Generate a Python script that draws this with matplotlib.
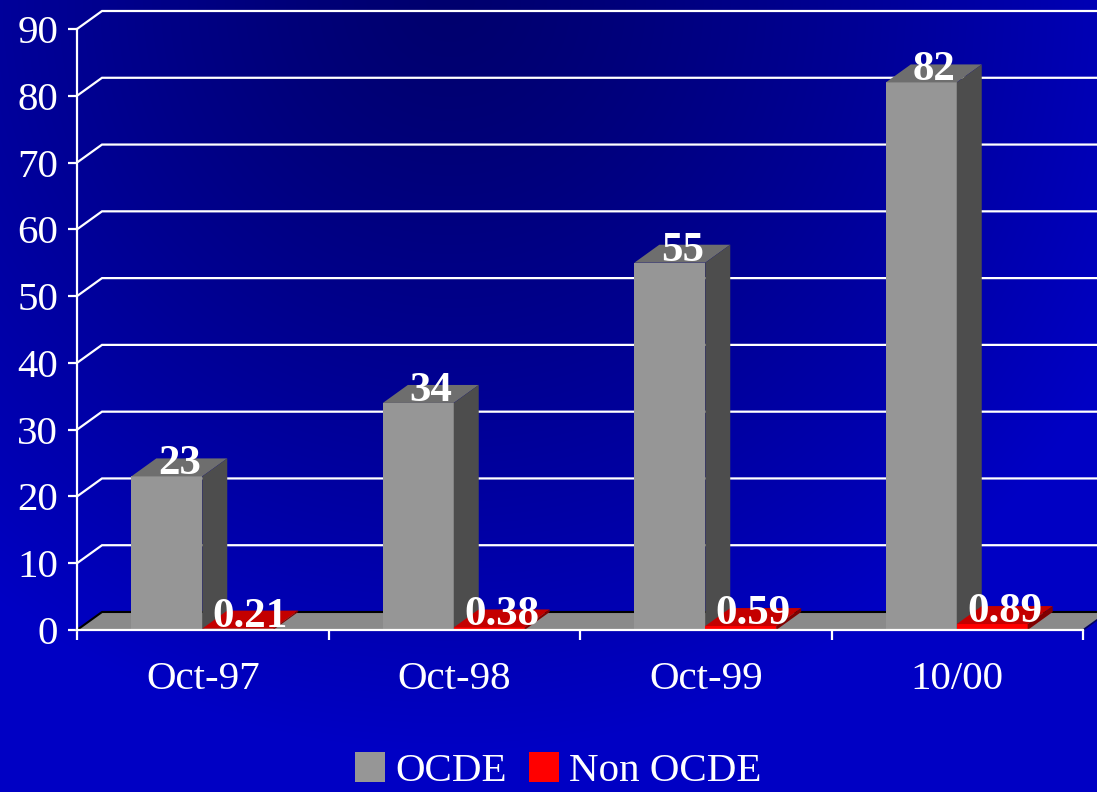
import numpy as np
import matplotlib
matplotlib.use("Agg")
import matplotlib.pyplot as plt
from matplotlib.patches import Polygon, Patch

# data
categories = ["Oct-97", "Oct-98", "Oct-99", "10/00"]
ocde = [23, 34, 55, 82]
non_ocde = [0.21, 0.38, 0.59, 0.89]
ocde_labels = ["23", "34", "55", "82"]
non_ocde_labels = ["0.21", "0.38", "0.59", "0.89"]
yticks = list(range(0, 100, 10))

FONT = "Liberation Serif"
W, H = 1097, 792

fig = plt.figure(figsize=(W / 100, H / 100), dpi=100)

# background: radial-ish blue gradient, darkest near top middle-left
ax_bg = fig.add_axes([0, 0, 1, 1])
yy, xx = np.mgrid[0:H, 0:W]
d = np.hypot(xx - 450, yy * 1.0)
t = np.clip(d / 750.0, 0, 1) ** 1.3
blue = (110 + (196 - 110) * t) / 255.0
img = np.zeros((H, W, 3))
img[..., 2] = blue
ax_bg.imshow(img, aspect="auto", extent=[0, 1, 0, 1], origin="upper")
ax_bg.axis("off")

# main axes = front plane of the 3D chart
x0, x1, y0, y1 = 77, 1083, 630, 29
ax = fig.add_axes([x0 / W, 1 - y0 / H, (x1 - x0) / W, (y0 - y1) / H])
ax.set_facecolor("none")
ax.set_xlim(0, 4)
ax.set_ylim(0, 90)

# depth offset (25 px right, 18 px up) in data units
dx = 25 / (x1 - x0) * 4
dy = 18 / (y0 - y1) * 90

# back wall gridlines
for v in yticks[1:]:
    ax.plot([0, dx, 4 + dx], [v, v + dy, v + dy], color="white", lw=1.6,
            clip_on=False, zorder=1, solid_joinstyle="miter")

# floor
floor = Polygon([(0, 0), (4, 0), (4 + dx, dy), (dx, dy)], closed=True,
                facecolor="#8a8a8a", edgecolor="none", clip_on=False, zorder=2)
ax.add_patch(floor)
ax.plot([0, dx, 4 + dx], [0, dy, dy], color="black", lw=1.5, clip_on=False, zorder=2.1)
ax.plot([4, 4 + dx], [0, dy], color="#000060", lw=1.2, clip_on=False, zorder=2.1)

x = np.arange(len(categories))
bw = 0.282
start = 0.216


def bar3d(xs, vals, front, top, side, z):
    bars = ax.bar(xs, vals, width=bw, align="edge", color=front,
                  edgecolor="none", zorder=z, clip_on=False)
    for b in bars:
        bx, by = b.get_x(), b.get_y()
        bwid, bh = b.get_width(), b.get_height()
        ax.add_patch(Polygon([(bx, by + bh), (bx + bwid, by + bh),
                              (bx + bwid + dx, by + bh + dy), (bx + dx, by + bh + dy)],
                             facecolor=top, edgecolor="none", zorder=z, clip_on=False))
        ax.add_patch(Polygon([(bx + bwid, by), (bx + bwid + dx, by + dy),
                              (bx + bwid + dx, by + bh + dy), (bx + bwid, by + bh)],
                             facecolor=side, edgecolor="none", zorder=z, clip_on=False))
    return bars


g_bars = bar3d(x + start, ocde, "#969696", "#6e6e6e", "#4d4d4d", 3)
r_bars = bar3d(x + start + bw, non_ocde, "#ff0000", "#c40000", "#800000", 4)

for bars, labels in [(g_bars, ocde_labels), (r_bars, non_ocde_labels)]:
    for b, lab in zip(bars, labels):
        ax.text(b.get_x() + b.get_width() / 2 + dx / 2, b.get_height() + 0.3, lab,
                ha="center", va="baseline", color="white", fontsize=31,
                fontweight="bold", family=FONT, zorder=6, clip_on=False)

# axes styling
for s in ["top", "right"]:
    ax.spines[s].set_visible(False)
ax.spines["left"].set_color("white")
ax.spines["left"].set_linewidth(1.6)
ax.spines["bottom"].set_color("white")
ax.spines["bottom"].set_linewidth(1.6)
ax.spines["bottom"].set_zorder(5)

ax.set_yticks(yticks)
ax.set_yticklabels([str(v) for v in yticks], color="white", fontsize=29.5, family=FONT)
ax.tick_params(axis="y", colors="white", length=6.5, width=1.6, pad=7)

ax.set_xticks(range(5))
ax.set_xticklabels([])
ax.tick_params(axis="x", which="major", colors="white", length=7, width=1.6)
ax.set_xticks(x + 0.5, minor=True)
ax.set_xticklabels(categories, minor=True, color="white", fontsize=29.5, family=FONT)
ax.tick_params(axis="x", which="minor", length=0, pad=22)

handles = [Patch(facecolor="#969696", label="OCDE"),
           Patch(facecolor="#ff0000", label="Non OCDE")]
leg = fig.legend(handles=handles, loc="center", bbox_to_anchor=(0.509, 0.026), ncol=2,
                 frameon=False, prop={"family": FONT, "size": 29.5},
                 handlelength=0.72, handleheight=0.72, handletextpad=0.25,
                 columnspacing=0.55, borderaxespad=0)
for t_ in leg.get_texts():
    t_.set_color("white")

fig.savefig("out.png", dpi=100)
